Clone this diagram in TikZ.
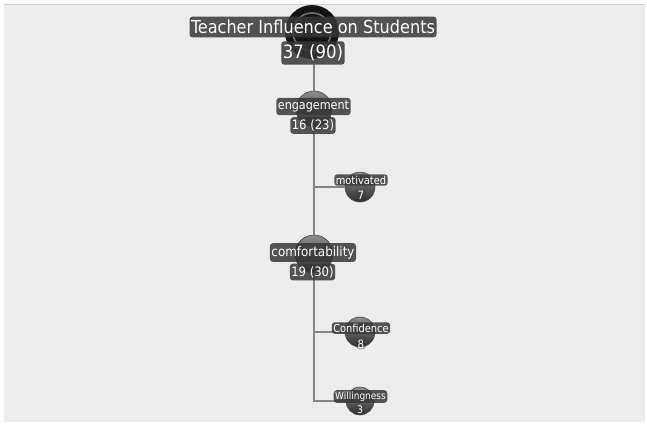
\documentclass[tikz,border=0pt]{standalone}
\usepackage{fontspec}
\setmainfont{DejaVu Sans Condensed}
\begin{document}
\begin{tikzpicture}[x=1bp,y=-1bp,
  lbl/.style={fill=black!78,fill opacity=0.85,text opacity=1,text=white,rounded corners=3bp,inner xsep=1.5bp,inner ysep=3bp},
  conn/.style={draw=black!48,line width=1.8bp},
  bubble/.style={circle,inner sep=0pt,top color=black!45,bottom color=black!82,draw=black!70,line width=0.6bp}]
\useasboundingbox (0,0) rectangle (647,426);
\fill[white] (0,0) rectangle (647,426);
\fill[black!7] (4,4) rectangle (645,422);
\draw[black!18,line width=0.8bp] (4,4.4) -- (645,4.4);
% bubbles
\node[circle,inner sep=0pt,minimum size=54bp,fill=black!92] (root) at (312,32) {};
\draw[black!55,line width=1.6bp] (root.center) circle (19bp);
\node[bubble,minimum size=36bp] (eng) at (314,109) {};
\node[bubble,minimum size=30bp] (mot) at (360,187) {};
\node[bubble,minimum size=38bp] (com) at (314,254) {};
\node[bubble,minimum size=30bp] (con) at (360,332) {};
\node[bubble,minimum size=28bp] (wil) at (360,401) {};
% connectors
\draw[conn] (314,64) -- (eng);
\draw[conn] (eng) -- (com);
\draw[conn] (314,127) |- (mot);
\draw[conn] (314,272) |- (con);
\draw[conn] (314,272) |- (wil);
% labels
\node[lbl,inner ysep=3.5bp,font=\fontsize{18}{20}\selectfont] (rootL) at (313,27) {Teacher Influence on Students};
\node[lbl,inner ysep=3.5bp,font=\fontsize{18.5}{20}\selectfont] (rootN) at (313,53) {37 (90)};
\node[lbl,font=\fontsize{12.5}{15}\selectfont] (engL) at (313.5,106.5) {engagement};
\node[lbl,inner ysep=2.5bp,font=\fontsize{13}{15}\selectfont] (engN) at (313,125.5) {16 (23)};
\node[lbl,inner ysep=1.5bp,font=\fontsize{11}{12}\selectfont] (motL) at (361,180) {motivated};
\node[lbl,inner ysep=1bp,fill opacity=0.35,font=\fontsize{11.5}{12}\selectfont] (motN) at (361,195) {7};
\node[lbl,font=\fontsize{13.3}{15}\selectfont] (comL) at (313,252.5) {comfortability};
\node[lbl,inner ysep=2.5bp,font=\fontsize{13}{15}\selectfont] (comN) at (312.5,272) {19 (30)};
\node[lbl,inner ysep=1.5bp,font=\fontsize{11}{12}\selectfont] (conL) at (361,328) {Confidence};
\node[lbl,inner ysep=1bp,fill opacity=0.35,font=\fontsize{11.5}{12}\selectfont] (conN) at (361,344) {8};
\node[lbl,inner ysep=1.5bp,font=\fontsize{10}{11}\selectfont] (wilL) at (360.5,396.5) {Willingness};
\node[lbl,inner ysep=1bp,fill opacity=0.35,font=\fontsize{10.5}{11}\selectfont] (wilN) at (360,409.5) {3};
\end{tikzpicture}
\end{document}
